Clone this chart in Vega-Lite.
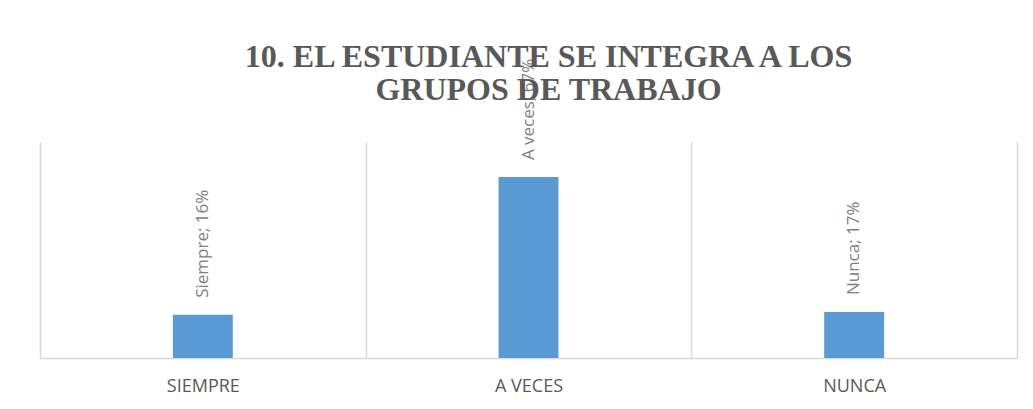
{
  "$schema": "https://vega.github.io/schema/vega-lite/v6.json",
  "autosize": "none",
  "width": 977,
  "height": 216,
  "padding": {"left": 40, "top": 142, "right": 16, "bottom": 51},
  "background": "white",
  "config": {"view": {"stroke": null}},
  "title": {
    "text": ["10. EL ESTUDIANTE SE INTEGRA A LOS", "GRUPOS DE TRABAJO"],
    "font": "Liberation Serif",
    "fontSize": 32,
    "fontWeight": "bold",
    "color": "#595959",
    "lineHeight": 33,
    "anchor": "middle",
    "dx": 20,
    "offset": -48
  },
  "data": {
    "values": [
      {"cat": "Siempre", "pct": 16, "lab": "Siempre; 16%"},
      {"cat": "A veces", "pct": 67, "lab": "A veces; 67%"},
      {"cat": "Nunca", "pct": 17, "lab": "Nunca; 17%"}
    ]
  },
  "encoding": {
    "x": {
      "field": "cat",
      "type": "nominal",
      "sort": null,
      "scale": {"paddingInner": 0, "paddingOuter": 0},
      "axis": {
        "title": null,
        "labelAngle": 0,
        "labelExpr": "upper(datum.label)",
        "labelFont": "Open Sans",
        "labelFontSize": 18,
        "labelColor": "#595959",
        "labelPadding": 19,
        "ticks": false,
        "tickBand": "extent",
        "grid": true,
        "gridColor": "#d9d9d9",
        "gridWidth": 1.5,
        "domainColor": "#d9d9d9",
        "domainWidth": 1.5
      }
    },
    "y": {
      "field": "pct",
      "type": "quantitative",
      "scale": {"domain": [0, 80], "nice": false},
      "axis": null
    }
  },
  "layer": [
    {
      "mark": {"type": "bar", "color": "#5b9bd5", "width": {"band": 0.184}}
    },
    {
      "mark": {
        "type": "text",
        "angle": 270,
        "align": "left",
        "baseline": "middle",
        "dx": 17,
        "font": "Open Sans",
        "fontSize": 17,
        "color": "#808080"
      },
      "encoding": {"text": {"field": "lab"}}
    }
  ]
}
